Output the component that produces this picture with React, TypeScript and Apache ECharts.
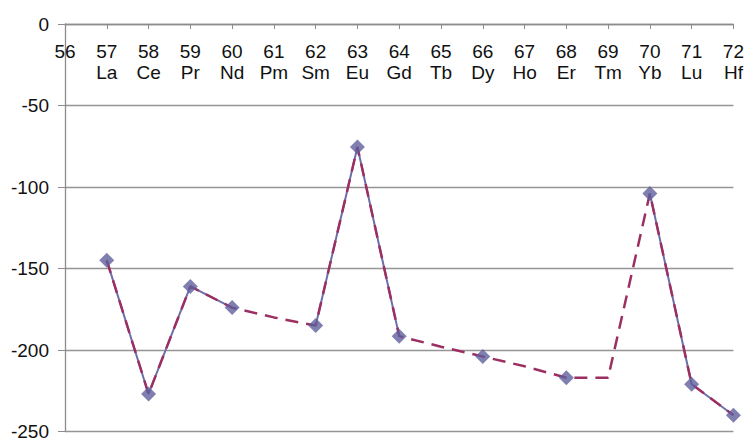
import React, { useEffect, useRef } from "react";
import * as echarts from "echarts";

const atomicNumbers = [57, 58, 59, 60, 61, 62, 63, 64, 65, 66, 67, 68, 69, 70, 71, 72];
const symbols = ["La", "Ce", "Pr", "Nd", "Pm", "Sm", "Eu", "Gd", "Tb", "Dy", "Ho", "Er", "Tm", "Yb", "Lu", "Hf"];
// measured values (null = not measured)
const measured = [-145, -227, -161, -174, null, -185, -75.5, -191.5, null, -204, null, -217, null, -104, -221, -240];
// dashed trend line values
const trend = [-145, -227, -161, -174, -180, -185, -75.5, -191.5, -198, -204, -210, -217, -217, -104, -221, -240];
const yTicks = [0, -50, -100, -150, -200, -250];
const xMin = 56;
const xMax = 72;

export default function App() {
  const ref = useRef<HTMLDivElement>(null);
  useEffect(() => {
    if (!ref.current) return;
    const chart = echarts.init(ref.current, null, { renderer: "svg" });
    const font = "'Liberation Sans', Arial, sans-serif";
    const measuredPairs = atomicNumbers.map((n, i) => [n, measured[i]]);
    const trendPairs = atomicNumbers.map((n, i) => [n, trend[i]]);
    const markerPairs = measuredPairs.filter((p) => p[1] !== null);
    chart.setOption({
      animation: false,
      backgroundColor: "#ffffff",
      grid: { left: 65, right: 13, top: 24, bottom: 7, containLabel: false },
      xAxis: {
        type: "value",
        position: "top",
        min: xMin,
        max: xMax,
        interval: 1,
        axisLine: { show: true, onZero: false, lineStyle: { color: "#8c8c8c", width: 1.3 } },
        axisTick: { show: true, inside: true, length: 5, lineStyle: { color: "#8c8c8c" } },
        splitLine: { show: false },
        axisLabel: {
          inside: true,
          margin: 17,
          color: "#111",
          fontFamily: font,
          fontSize: 19,
          lineHeight: 21,
          verticalAlign: "top",
          formatter: (v: number) => {
            const i = atomicNumbers.indexOf(v);
            return i < 0 ? String(v) : `${v}\n${symbols[i]}`;
          },
        },
      },
      yAxis: {
        type: "value",
        min: yTicks[yTicks.length - 1],
        max: yTicks[0],
        interval: 50,
        axisLine: { show: true, onZero: false, lineStyle: { color: "#8c8c8c", width: 1.3 } },
        axisTick: { show: true, inside: false, length: 7, lineStyle: { color: "#8c8c8c" } },
        splitLine: { show: true, lineStyle: { color: "#959595", width: 1.4 } },
        axisLabel: {
          margin: 16,
          color: "#111",
          fontFamily: font,
          fontSize: 19,
        },
      },
      series: [
        {
          type: "line",
          data: measuredPairs,
          connectNulls: false,
          showSymbol: false,
          symbol: "none",
          lineStyle: { color: "#6d6dab", width: 2 },
          z: 2,
        },
        {
          type: "line",
          data: trendPairs,
          showSymbol: false,
          symbol: "none",
          lineStyle: { color: "#9c2f62", width: 2.5, type: [13, 8] },
          z: 3,
        },
        {
          type: "scatter",
          data: markerPairs,
          symbol: "diamond",
          symbolSize: [15, 15],
          itemStyle: { color: "#5f5f9c" },
          z: 4,
        },
      ],
    });
    return () => chart.dispose();
  }, []);
  return (
    <div
      ref={ref}
      style={{ position: "fixed", left: 0, top: 0, width: 747, height: 441, background: "#fff" }}
    />
  );
}
